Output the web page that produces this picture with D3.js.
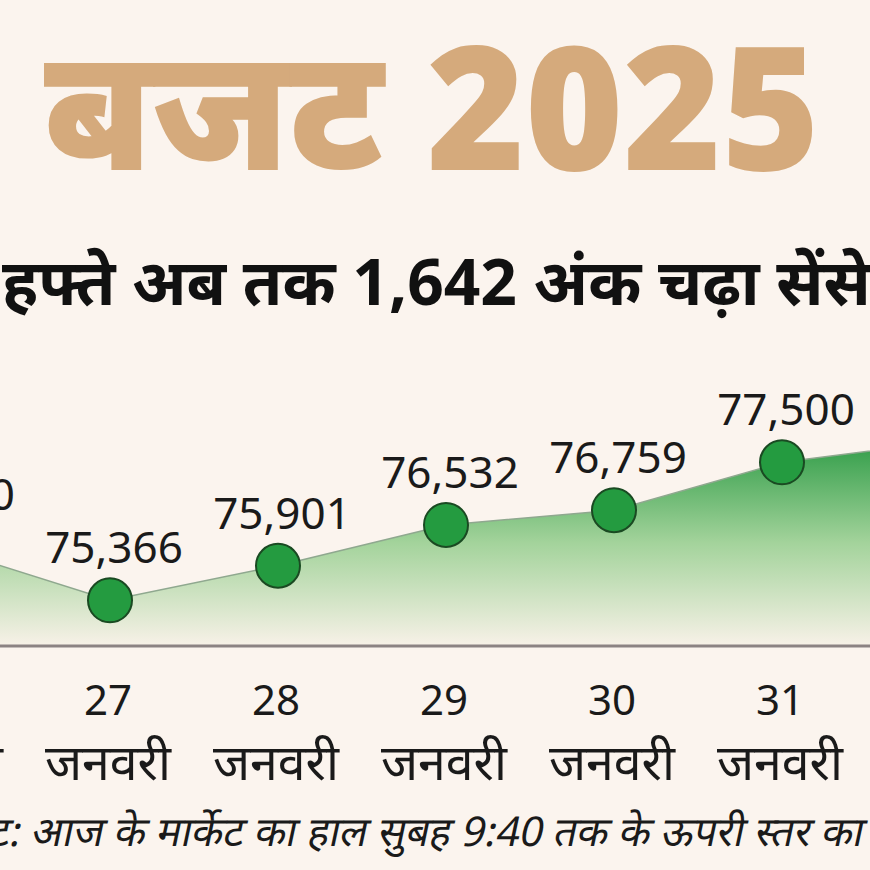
<!DOCTYPE html>
<html><head><meta charset="utf-8">
<script src="https://cdn.jsdelivr.net/npm/d3@7"></script>
<style>
html,body{margin:0;padding:0;background:#fbf4ee;}
svg{display:block;}
</style></head>
<body>
<svg id="c" width="870" height="870"></svg>
<script>
const dayLabels = ["24","27","28","29","30","31","1"];
const monthLabels = ["जनवरी","जनवरी","जनवरी","जनवरी","जनवरी","जनवरी","फरवरी"];
const values = [76190, 75366, 75901, 76532, 76759, 77500, 77832];
const valueLabels = ["76,190","75,366","75,901","76,532","76,759","77,500","77,832"];
const title = "बजट 2025";
const subtitle = "इस हफ्ते अब तक 1,642 अंक चढ़ा सेंसेक्स";
const note = "नोट: आज के मार्केट का हाल सुबह 9:40 तक के ऊपरी स्तर का";

const W = 870, H = 870;
const svg = d3.select("#c");
svg.append("rect").attr("width",W).attr("height",H).attr("fill","#fbf4ee");

const FONT = "'Noto Sans', 'Noto Sans Devanagari', sans-serif";
const baseY = 645;

const x = d3.scalePoint().domain(dayLabels).range([-58, 950]);
const y = d3.scaleLinear().domain([75000, 78000]).range([624, 430]);

// title
svg.append("text").attr("transform","translate(432,170) scale(0.975,1)").attr("text-anchor","middle")
  .attr("font-family", FONT).attr("font-weight", 900).attr("font-size", 172)
  .attr("fill", "#d5aa7c").text(title);

// subtitle
const sub = svg.append("text").attr("y", 305)
  .attr("font-family", FONT).attr("font-weight", 700).attr("font-size", 64)
  .attr("fill", "#111").text(subtitle);
let off = 0;
try { off = sub.node().getStartPositionOfChar(3).x; } catch(e) { off = 70; }
sub.attr("x", -off + 2);

// gradient
const defs = svg.append("defs");
const g = defs.append("linearGradient").attr("id","ag").attr("gradientUnits","userSpaceOnUse")
  .attr("x1",0).attr("x2",0).attr("y1",440).attr("y2",baseY);
g.append("stop").attr("offset","0").attr("stop-color","#2f9c47");
g.append("stop").attr("offset","0.5").attr("stop-color","#a3d39b");
g.append("stop").attr("offset","1").attr("stop-color","#f7f1e7");

const data = dayLabels.map((d,i)=>({d, v: values[i], lab: valueLabels[i], m: monthLabels[i]}));

const area = d3.area().x(d=>x(d.d)).y0(baseY).y1(d=>y(d.v));
svg.append("path").datum(data).attr("d", area).attr("fill","url(#ag)");
const line = d3.line().x(d=>x(d.d)).y(d=>y(d.v));
svg.append("path").datum(data).attr("d", line).attr("fill","none")
  .attr("stroke","#8fa88f").attr("stroke-width",1.5);

// baseline
svg.append("line").attr("x1",0).attr("x2",W).attr("y1",baseY+1).attr("y2",baseY+1)
  .attr("stroke","#8c8383").attr("stroke-width",3);

// points
svg.selectAll("circle.p").data(data).join("circle").attr("class","p")
  .attr("cx", d=>x(d.d)).attr("cy", d=>y(d.v)).attr("r", 22)
  .attr("fill","#249b40").attr("stroke","#1a4a22").attr("stroke-width",2);

// value labels
svg.selectAll("text.v").data(data).join("text").attr("class","v")
  .attr("x", d=>x(d.d)+4).attr("y", d=>y(d.v)-37).attr("text-anchor","middle")
  .attr("font-family", FONT).attr("font-size", 44).attr("fill","#1a1a1a").text(d=>d.lab);

// x labels
svg.selectAll("text.d").data(data).join("text").attr("class","d")
  .attr("x", d=>x(d.d)-2).attr("y", 715).attr("text-anchor","middle")
  .attr("font-family", FONT).attr("font-size", 42).attr("fill","#1a1a1a").text(d=>d.d);
svg.selectAll("text.m").data(data).join("text").attr("class","m")
  .attr("x", d=>x(d.d)-2).attr("y", 780).attr("text-anchor","middle")
  .attr("font-family", FONT).attr("font-size", 50).attr("fill","#1a1a1a").text(d=>d.m);

// note
svg.append("text").attr("transform","translate(862,846) skewX(-12)").attr("text-anchor","end")
  .attr("font-family", FONT).attr("font-size", 41)
  .attr("fill","#1a1a1a").text(note);
</script>
</body></html>
